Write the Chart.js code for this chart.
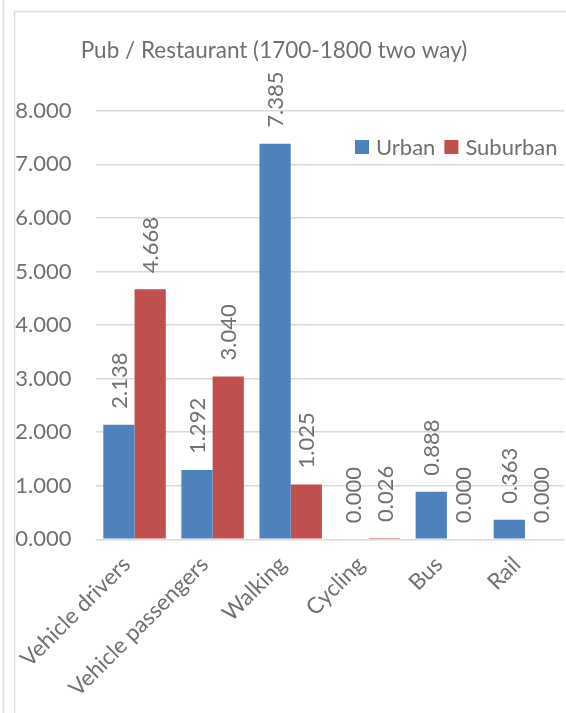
<!DOCTYPE html>
<html>
<head>
<meta charset="utf-8">
<script src="https://cdn.jsdelivr.net/npm/chart.js@4/dist/chart.umd.min.js"></script>
<style>
  html, body { margin: 0; padding: 0; background: #ffffff; }
  #wrap { position: relative; width: 566px; height: 713px; }
</style>
</head>
<body>
<div id="wrap"><canvas id="c" width="566" height="713"></canvas></div>
<script>
const title = "Pub / Restaurant (1700-1800 two way)";
const categories = ["Vehicle drivers", "Vehicle passengers", "Walking", "Cycling", "Bus", "Rail"];
const seriesNames = ["Urban", "Suburban"];
const urban = [2.138, 1.292, 7.385, 0.000, 0.888, 0.363];
const suburban = [4.668, 3.040, 1.025, 0.026, 0.000, 0.000];
const yTicks = [0, 1, 2, 3, 4, 5, 6, 7, 8];

const FONT = "Lato";
const TEXT = "#707070";
const BLUE = "#4F81BD";
const RED = "#C0504D";
const GRID = "#D9D9D9";

const framePlugin = {
  id: "frame",
  beforeDraw(chart) {
    const ctx = chart.ctx;
    ctx.save();
    ctx.strokeStyle = "#DDDDDD";
    ctx.lineWidth = 1.5;
    ctx.beginPath();
    ctx.moveTo(3.5, 0); ctx.lineTo(3.5, chart.height);
    ctx.moveTo(14.5, chart.height); ctx.lineTo(14.5, 11.5); ctx.lineTo(chart.width, 11.5);
    ctx.stroke();
    ctx.restore();
  }
};

const titlePlugin = {
  id: "customTitle",
  afterDraw(chart) {
    const ctx = chart.ctx;
    ctx.save();
    ctx.fillStyle = TEXT;
    ctx.font = "22.5px " + FONT;
    ctx.textAlign = "center";
    ctx.textBaseline = "alphabetic";
    ctx.fillText(title, 274, 58);
    ctx.restore();
  }
};

const legendPlugin = {
  id: "customLegend",
  afterDraw(chart) {
    const ctx = chart.ctx;
    ctx.save();
    ctx.font = "22px " + FONT;
    ctx.textBaseline = "middle";
    ctx.textAlign = "left";
    let x = 355;
    const y = 147;
    chart.data.datasets.forEach(ds => {
      ctx.fillStyle = ds.backgroundColor;
      ctx.fillRect(x, y - 7, 14, 14);
      ctx.fillStyle = TEXT;
      ctx.fillText(ds.label, x + 21, y + 1);
      x += 21 + ctx.measureText(ds.label).width + 9;
    });
    ctx.restore();
  }
};

const labelPlugin = {
  id: "valueLabels",
  afterDatasetsDraw(chart) {
    const ctx = chart.ctx;
    ctx.save();
    ctx.font = "22px " + FONT;
    ctx.fillStyle = TEXT;
    ctx.textAlign = "left";
    ctx.textBaseline = "middle";
    chart.data.datasets.forEach((ds, di) => {
      const meta = chart.getDatasetMeta(di);
      meta.data.forEach((bar, i) => {
        const v = ds.data[i];
        ctx.save();
        ctx.translate(bar.x, bar.y - 16);
        ctx.rotate(-Math.PI / 2);
        ctx.fillText(v.toFixed(3), 0, 1);
        ctx.restore();
      });
    });
    ctx.restore();
  }
};

new Chart(document.getElementById("c"), {
  type: "bar",
  data: {
    labels: categories,
    datasets: [
      { label: seriesNames[0], data: urban, backgroundColor: BLUE },
      { label: seriesNames[1], data: suburban, backgroundColor: RED }
    ]
  },
  options: {
    responsive: false,
    animation: false,
    devicePixelRatio: 1,
    layout: { padding: { top: 110.7, right: 2, left: 0, bottom: 0 } },
    plugins: { legend: { display: false }, title: { display: false }, tooltip: { enabled: false } },
    datasets: { bar: { categoryPercentage: 0.8, barPercentage: 1.0 } },
    scales: {
      x: {
        grid: { display: false, drawTicks: false },
        border: { display: false },
        ticks: { color: TEXT, font: { family: FONT, size: 22.5 }, minRotation: 45, maxRotation: 45, padding: 12, labelOffset: -8, autoSkip: false },
        afterFit(s) { s.height = 713 - 539.3; }
      },
      y: {
        min: 0, max: 8,
        afterBuildTicks(s) { s.ticks = yTicks.map(v => ({ value: v })); },
        grid: { color: GRID, lineWidth: 1.5, drawTicks: false },
        border: { display: false },
        ticks: { color: TEXT, font: { family: FONT, size: 22 }, padding: 24, callback: v => Number(v).toFixed(3) },
        afterFit(s) { s.width = 95.5; }
      }
    }
  },
  plugins: [framePlugin, titlePlugin, legendPlugin, labelPlugin]
});
</script>
</body>
</html>
